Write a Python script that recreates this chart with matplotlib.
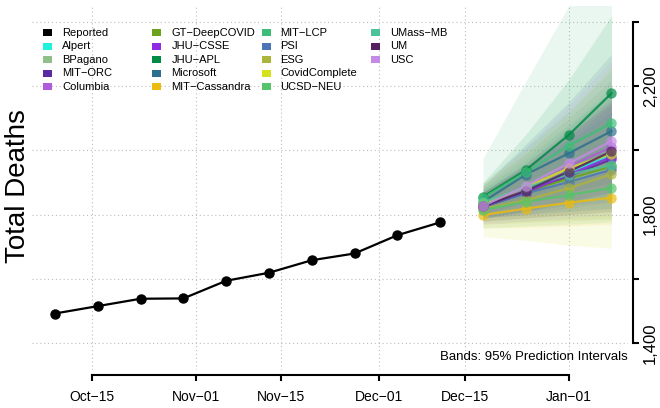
import matplotlib
matplotlib.use("Agg")
import matplotlib.pyplot as plt
import matplotlib.dates as mdates
from matplotlib.patches import Rectangle
import numpy as np

plt.rcParams['font.family'] = ['Liberation Sans', 'DejaVu Sans']

# observed weekly totals
report_dates = ['2021-10-09', '2021-10-16', '2021-10-23', '2021-10-30', '2021-11-06',
                '2021-11-13', '2021-11-20', '2021-11-27', '2021-12-04', '2021-12-11']
reported = [1492, 1515, 1538, 1539, 1594, 1619, 1658, 1679, 1736, 1776]

# forecast horizons
forecast_dates = ['2021-12-18', '2021-12-25', '2022-01-01', '2022-01-08']

models = ['Alpert', 'BPagano', 'MIT\u2212ORC', 'Columbia', 'GT\u2212DeepCOVID', 'JHU\u2212CSSE',
          'JHU\u2212APL', 'Microsoft', 'MIT\u2212Cassandra', 'MIT\u2212LCP', 'PSI', 'ESG',
          'CovidComplete', 'UCSD\u2212NEU', 'UMass\u2212MB', 'UM', 'USC']
model_colors = ['#1EF2DC', '#8FBF8B', '#5A2AA0', '#AE5CDA', '#6BA31C', '#8E2BE3',
                '#008A44', '#2D6F8E', '#EBBB10', '#3DBE78', '#4E74B8', '#ADB43A',
                '#D5E11A', '#55C46A', '#4CC29B', '#55205F', '#C48BE6']

# point forecasts (median), per model, per horizon
median = [
    [1830, 1878, 1930, 1985],   # Alpert
    [1828, 1868, 1905, 1945],   # BPagano
    [1824, 1868, 1920, 1972],   # MIT-ORC
    [1828, 1880, 1950, 2010],   # Columbia
    [1832, 1872, 1912, 1950],   # GT-DeepCOVID
    [1825, 1870, 1925, 1980],   # JHU-CSSE
    [1856, 1939, 2048, 2178],   # JHU-APL
    [1840, 1925, 1991, 2060],   # Microsoft
    [1799, 1819, 1837, 1853],   # MIT-Cassandra
    [1852, 1932, 2015, 2085],   # MIT-LCP
    [1826, 1866, 1902, 1940],   # PSI
    [1818, 1845, 1882, 1926],   # ESG
    [1835, 1885, 1945, 1990],   # CovidComplete
    [1815, 1840, 1861, 1883],   # UCSD-NEU
    [1838, 1885, 1925, 1955],   # UMass-MB
    [1826, 1874, 1934, 1997],   # UM
    [1827, 1890, 1960, 2029],   # USC
]
lower = [
    [1790, 1810, 1830, 1850],
    [1775, 1780, 1785, 1790],
    [1780, 1790, 1800, 1810],
    [1790, 1810, 1830, 1850],
    [1780, 1790, 1800, 1810],
    [1790, 1800, 1820, 1840],
    [1810, 1850, 1900, 1950],
    [1800, 1840, 1870, 1900],
    [1760, 1760, 1765, 1770],
    [1790, 1800, 1810, 1820],
    [1790, 1800, 1810, 1820],
    [1770, 1775, 1780, 1785],
    [1731, 1720, 1705, 1695],
    [1757, 1765, 1770, 1777],
    [1790, 1810, 1830, 1840],
    [1790, 1810, 1840, 1870],
    [1770, 1780, 1790, 1800],
]
upper = [
    [1880, 1970, 2080, 2200],
    [1880, 1980, 2080, 2180],
    [1870, 1960, 2060, 2160],
    [1870, 1960, 2070, 2190],
    [1890, 1990, 2100, 2220],
    [1860, 1940, 2040, 2140],
    [1900, 2050, 2220, 2420],
    [1890, 2020, 2150, 2300],
    [1840, 1890, 1930, 1980],
    [1975, 2215, 2450, 2700],
    [1870, 1950, 2030, 2120],
    [1870, 1940, 2020, 2100],
    [1900, 2000, 2120, 2260],
    [1880, 1950, 2030, 2110],
    [1900, 2010, 2120, 2250],
    [1870, 1950, 2050, 2150],
    [1890, 2010, 2140, 2280],
]

x_tick_dates = ['2021-10-15', '2021-11-01', '2021-11-15', '2021-12-01', '2021-12-15', '2022-01-01']
x_tick_labels = ['Oct\u221215', 'Nov\u221201', 'Nov\u221215', 'Dec\u221201', 'Dec\u221215', 'Jan\u221201']
y_ticks = [1400, 1600, 1800, 2000, 2200, 2400]
y_tick_labels = ['1,400', '', '1,800', '', '2,200', '']

W, H = 660, 408
fig = plt.figure(figsize=(W / 100, H / 100), dpi=100)
fig.patch.set_facecolor('white')
ax = fig.add_axes([32 / W, 38 / H, 596 / W, 364 / H])

to_num = lambda ds: mdates.date2num(np.array(ds, dtype='datetime64[D]'))
xr = to_num(report_dates)
xf = to_num(forecast_dates)
xt = to_num(x_tick_dates)

# bands
for i, c in enumerate(model_colors):
    ax.fill_between(xf, lower[i], upper[i], color=c, alpha=0.11, lw=0, zorder=2)

# forecast lines + points
for i, c in enumerate(model_colors):
    ax.plot(xf, median[i], color=c, lw=1.6, alpha=0.85, zorder=3)
    ax.plot(xf, median[i], 'o', color=c, ms=7.5, alpha=0.7, mec='none', zorder=4)

ax.plot(xr, reported, color='black', lw=1.6, marker='o', ms=6.5, zorder=5)

ax.set_xlim(to_num(['2021-10-05'])[0] + 0.25, to_num(['2022-01-10'])[0] + 0.7)
ax.set_ylim(1316, 2450)

ax.set_xticks(xt)
ax.set_xticklabels(x_tick_labels, fontsize=11.5)
ax.yaxis.tick_right()
ax.set_yticks(y_ticks)
ax.set_yticklabels(y_tick_labels)

ax.grid(True, linestyle=(0, (1, 2.5)), color='#BDBDBD', lw=0.8, zorder=0)
ax.set_axisbelow(True)

for s in ['top', 'left']:
    ax.spines[s].set_visible(False)
ax.spines['bottom'].set_position(('outward', 3.6))
ax.spines['right'].set_position(('outward', 3.6))
ax.spines['bottom'].set_bounds(xt[0], xt[-1])
ax.spines['right'].set_bounds(1400, 2400)
for s in ['bottom', 'right']:
    ax.spines[s].set_linewidth(1.5)
ax.tick_params(axis='both', direction='out', length=4, width=1.5)
ax.tick_params(axis='x', pad=7)
ax.tick_params(axis='y', pad=3, labelsize=12, labelrotation=90)
for lab in ax.get_yticklabels():
    lab.set_verticalalignment('center')
    lab.set_horizontalalignment('left')

fig.text(18 / W, 1 - 186 / H, 'Total Deaths', rotation=90, ha='center', va='center', fontsize=20)

ax.text(1.0, 0.035, 'Bands: 95% Prediction Intervals', transform=ax.transAxes,
        ha='right', va='center', fontsize=9.5)

# legend, drawn in pixel positions (4 columns x 5 rows)
leg_labels = ['Reported'] + models
leg_colors = ['black'] + model_colors
for k, (lab, c) in enumerate(zip(leg_labels, leg_colors)):
    col, row = divmod(k, 5)
    px = 43 + col * 109.3
    py = 32.5 + row * 13.6
    fig.patches.append(Rectangle((px / W, 1 - (py + 3.5) / H), 9 / W, 7 / H,
                                 transform=fig.transFigure, facecolor=c, edgecolor='none'))
    fig.text((px + 19) / W, 1 - py / H, lab, ha='left', va='center', fontsize=8)

fig.savefig('out.png', dpi=100)
